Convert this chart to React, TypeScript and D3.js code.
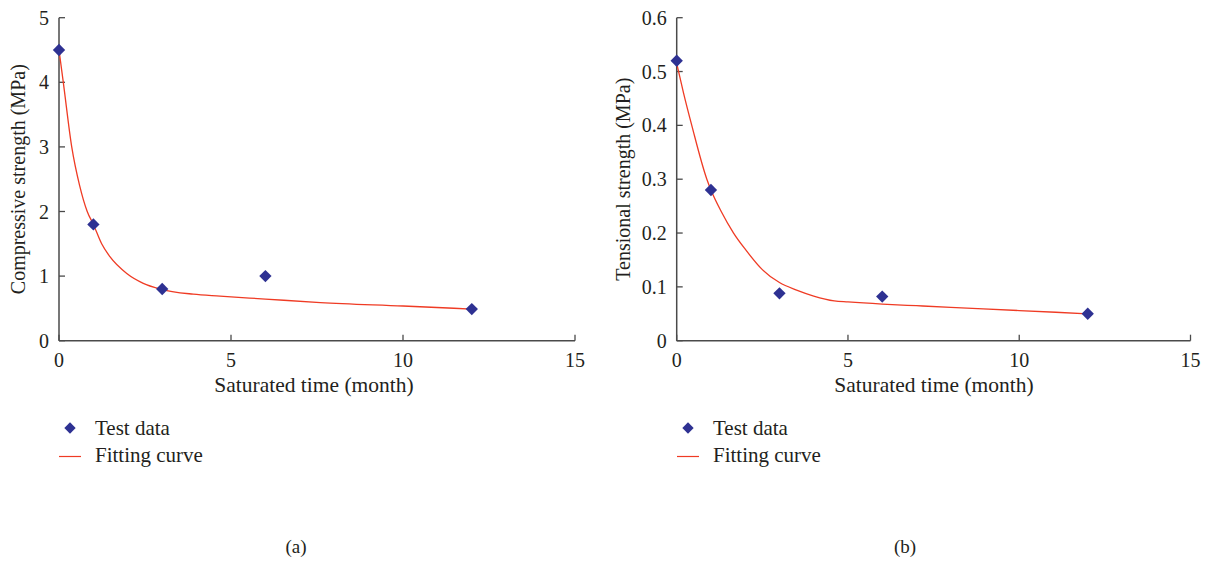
import React, { useEffect, useRef } from "react";
import * as d3 from "d3";

const months = [0, 1, 3, 6, 12];
const compressive = [4.5, 1.8, 0.8, 1.0, 0.49];
const tensional = [0.52, 0.28, 0.088, 0.082, 0.05];

const compFitX = [0, 0.125, 0.37, 0.6, 0.82, 1, 1.24, 1.48, 1.97, 2.45, 2.94, 3.9, 4.68, 6, 7.6, 10, 12];
const compFitY = [4.5, 4.0, 3.0, 2.4, 2.0, 1.8, 1.5, 1.3, 1.04, 0.888, 0.8, 0.72, 0.69, 0.645, 0.59, 0.537, 0.49];

const tensFitX = [0, 0.2, 0.44, 0.88, 1, 1.3, 1.66, 2, 2.5, 3, 3.5, 4, 4.6, 5, 6, 7, 8, 10, 12];
const tensFitY = [0.515, 0.46, 0.4, 0.3, 0.28, 0.24, 0.2, 0.17, 0.132, 0.108, 0.094, 0.083, 0.074, 0.072, 0.068, 0.065, 0.062, 0.056, 0.05];

const xTicks = [0, 5, 10, 15];
const compTicks = [0, 1, 2, 3, 4, 5];
const tensTicks = [0, 0.1, 0.2, 0.3, 0.4, 0.5, 0.6];

const xLabel = "Saturated time (month)";
const legendLabels = ["Test data", "Fitting curve"];

const FONT = "'Liberation Serif', 'Times New Roman', serif";
const AXIS = "#4a4a4a";
const TEXT = "#231f20";
const BLUE = "#2e3192";
const RED = "#ef3b24";

type PanelCfg = {
  x0: number; x1: number; yTop: number; yBot: number;
  yMax: number; yTicks: number[]; yFmt: (v: number) => string;
  yLabel: string; yLabelX: number; xLabelX: number; ys: number[]; fitX: number[]; fitY: number[];
  legX: number; caption: string; captionX: number;
};

function drawPanel(g: d3.Selection<SVGGElement, unknown, null, undefined>, c: PanelCfg) {
  const x = d3.scaleLinear().domain([0, 15]).range([c.x0, c.x1]);
  const y = d3.scaleLinear().domain([0, c.yMax]).range([c.yBot, c.yTop]);

  g.append("line").attr("x1", c.x0).attr("x2", c.x0).attr("y1", c.yTop).attr("y2", c.yBot)
    .attr("stroke", AXIS).attr("stroke-width", 1.5);
  g.append("line").attr("x1", c.x0).attr("x2", c.x1).attr("y1", c.yBot).attr("y2", c.yBot)
    .attr("stroke", AXIS).attr("stroke-width", 1.5);

  c.yTicks.forEach((t) => {
    g.append("line").attr("x1", c.x0).attr("x2", c.x0 + 6).attr("y1", y(t)).attr("y2", y(t))
      .attr("stroke", AXIS).attr("stroke-width", 1.3);
    g.append("text").attr("x", c.x0 - 10).attr("y", y(t)).attr("dy", "0.35em")
      .attr("text-anchor", "end").attr("font-family", FONT).attr("font-size", 20)
      .attr("fill", TEXT).text(c.yFmt(t));
  });
  xTicks.forEach((t) => {
    g.append("line").attr("x1", x(t)).attr("x2", x(t)).attr("y1", c.yBot).attr("y2", c.yBot - 6)
      .attr("stroke", AXIS).attr("stroke-width", 1.3);
    g.append("text").attr("x", x(t)).attr("y", c.yBot + 26)
      .attr("text-anchor", "middle").attr("font-family", FONT).attr("font-size", 20)
      .attr("fill", TEXT).text(String(t));
  });

  g.append("text").attr("x", c.xLabelX).attr("y", c.yBot + 51)
    .attr("text-anchor", "middle").attr("font-family", FONT).attr("font-size", 21.5)
    .attr("fill", TEXT).text(xLabel);

  g.append("text").attr("transform", `translate(${c.yLabelX},${(c.yTop + c.yBot) / 2}) rotate(-90)`)
    .attr("text-anchor", "middle").attr("font-family", FONT).attr("font-size", 20)
    .attr("fill", TEXT).text(c.yLabel);

  const pts: [number, number][] = c.fitX.map((v, i) => [v, c.fitY[i]]);
  const line = d3.line<[number, number]>().x((d) => x(d[0])).y((d) => y(d[1])).curve(d3.curveMonotoneX);
  g.append("path").attr("d", line(pts) as string).attr("fill", "none")
    .attr("stroke", RED).attr("stroke-width", 1.3);

  const sym = d3.symbol().type(d3.symbolSquare).size(76);
  months.forEach((m, i) => {
    g.append("path").attr("d", sym() as string)
      .attr("transform", `translate(${x(m)},${y(c.ys[i])}) rotate(45)`)
      .attr("fill", BLUE);
  });

  g.append("path").attr("d", d3.symbol().type(d3.symbolSquare).size(64)() as string)
    .attr("transform", `translate(${c.legX + 11},${428}) rotate(45)`).attr("fill", BLUE);
  g.append("text").attr("x", c.legX + 36).attr("y", 435).attr("font-family", FONT)
    .attr("font-size", 21).attr("fill", TEXT).text(legendLabels[0]);
  g.append("line").attr("x1", c.legX).attr("x2", c.legX + 22).attr("y1", 456.5).attr("y2", 456.5)
    .attr("stroke", RED).attr("stroke-width", 1.2);
  g.append("text").attr("x", c.legX + 36).attr("y", 462).attr("font-family", FONT)
    .attr("font-size", 21).attr("fill", TEXT).text(legendLabels[1]);

  g.append("text").attr("x", c.captionX).attr("y", 553).attr("text-anchor", "middle")
    .attr("font-family", FONT).attr("font-size", 19).attr("fill", TEXT).text(c.caption);
}

export default function App() {
  const ref = useRef<SVGSVGElement>(null);
  useEffect(() => {
    const svg = d3.select(ref.current);
    svg.selectAll("*").remove();
    drawPanel(svg.append("g"), {
      x0: 59, x1: 575, yTop: 17.7, yBot: 340.7, yMax: 5, yTicks: compTicks,
      yFmt: (v) => String(v), yLabel: "Compressive strength (MPa)", yLabelX: 25, xLabelX: 314,
      ys: compressive, fitX: compFitX, fitY: compFitY, legX: 59, caption: "(a)", captionX: 296,
    });
    drawPanel(svg.append("g"), {
      x0: 676.7, x1: 1190.5, yTop: 17.7, yBot: 340.7, yMax: 0.6, yTicks: tensTicks,
      yFmt: (v) => (v === 0 ? "0" : v.toFixed(1)), yLabel: "Tensional strength (MPa)", yLabelX: 630, xLabelX: 934,
      ys: tensional, fitX: tensFitX, fitY: tensFitY, legX: 677, caption: "(b)", captionX: 905,
    });
  }, []);
  return (
    <svg ref={ref} width={1208} height={561}
      style={{ position: "absolute", left: 0, top: 0, background: "#fff" }} />
  );
}
